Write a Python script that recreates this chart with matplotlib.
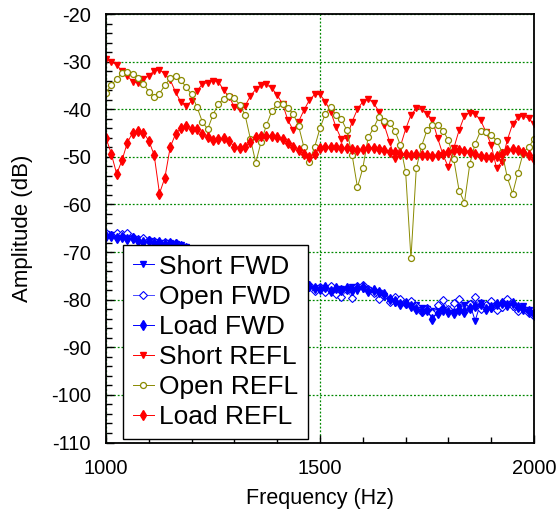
import matplotlib
matplotlib.use('Agg')
import matplotlib.pyplot as plt
import numpy as np

plt.rcParams['font.family'] = ['Liberation Sans', 'DejaVu Sans']
plt.rcParams['axes.unicode_minus'] = False

# frequency sampling (Hz)
freq = np.arange(1000, 2000.1, 12.5)

short_fwd = [-66.3, -66.5, -66.8, -66.6, -67.0, -67.4, -67.5, -67.8, -67.6, -67.9,
             -68.0, -68.2, -68.0, -68.3, -68.6, -69.0, -69.6, -70.2, -70.8, -71.3,
             -71.9, -72.4, -72.8, -73.3, -73.7, -74.2, -74.6, -75.0, -75.4, -75.9,
             -76.2, -76.5, -76.8, -77.0, -77.2, -77.3, -77.5, -77.4, -77.6, -77.8,
             -77.5, -77.9, -77.6, -78.0, -77.7, -77.9, -77.4, -78.1, -77.8, -78.0,
             -78.3, -78.6, -79.3, -80.2, -80.6, -80.4, -80.9, -80.6, -81.2, -81.8,
             -82.0, -82.4, -81.9, -82.6, -82.3, -82.5, -81.5, -81.2, -80.9, -84.4,
             -80.8, -81.6, -81.9, -81.3, -81.7, -80.9, -81.5, -81.8, -81.4, -82.2, -82.7]

open_fwd = [-66.0, -66.4, -65.9, -66.3, -66.1, -66.8, -67.2, -67.0, -67.5, -67.7,
            -68.1, -67.8, -68.4, -68.0, -68.7, -69.3, -69.9, -70.6, -71.0, -71.8,
            -72.1, -72.9, -73.1, -73.8, -74.0, -74.7, -74.9, -75.5, -75.6, -76.3,
            -76.4, -76.9, -77.0, -77.4, -77.1, -77.6, -77.2, -77.8, -77.0, -78.2,
            -77.3, -78.4, -77.1, -78.9, -79.5, -78.0, -79.6, -77.2, -76.9, -77.8,
            -78.6, -79.9, -79.2, -80.5, -79.4, -79.9, -81.0, -80.2, -81.4, -82.5,
            -81.7, -82.8, -81.2, -80.0, -81.9, -80.6, -79.8, -82.3, -81.0, -79.5,
            -82.0, -81.1, -80.2, -82.1, -81.6, -79.8, -81.3, -82.4, -81.8, -82.9, -83.4]

load_fwd = [-66.6, -66.7, -67.1, -66.9, -67.3, -67.1, -67.6, -67.9, -67.7, -68.1,
            -67.9, -68.3, -68.1, -68.4, -68.8, -69.2, -69.8, -70.4, -70.9, -71.5,
            -72.0, -72.6, -73.0, -73.5, -73.9, -74.4, -74.8, -75.2, -75.7, -76.0,
            -76.4, -76.7, -76.9, -77.2, -77.4, -77.2, -77.6, -77.3, -77.2, -77.5,
            -77.8, -77.3, -78.1, -77.6, -78.0, -77.5, -77.9, -77.6, -77.4, -78.2,
            -77.9, -78.4, -78.9, -79.8, -80.3, -81.0, -80.7, -81.3, -81.9, -82.4,
            -82.2, -84.0, -82.7, -82.0, -82.5, -82.9, -82.2, -82.6, -81.7, -81.3,
            -80.9, -82.0, -81.5, -81.0, -80.6, -81.2, -80.7, -81.5, -81.9, -82.4, -83.0]

short_refl = [-29.5, -30.0, -30.7, -32.0, -33.0, -34.2, -34.5, -33.7, -33.0, -31.9,
              -31.7, -32.6, -33.8, -36.4, -38.5, -39.3, -38.3, -36.2, -34.7, -34.4,
              -34.0, -34.2, -36.0, -37.4, -39.5, -40.0, -39.3, -37.2, -35.8, -34.9,
              -34.8, -35.6, -37.0, -38.9, -42.3, -44.4, -42.6, -40.2, -38.1, -36.9,
              -36.9, -38.4, -40.5, -43.8, -46.3, -46.1, -42.6, -40.0, -38.4, -37.9,
              -38.6, -40.5, -43.3, -46.8, -50.5, -47.9, -44.2, -41.2, -39.8, -40.0,
              -40.9, -42.3, -46.1, -49.6, -52.2, -48.2, -44.4, -41.4, -40.7, -41.0,
              -42.3, -44.7, -47.5, -52.4, -51.0, -46.5, -43.1, -41.7, -41.4, -41.9, -43.1]

open_refl = [-36.5, -34.9, -33.7, -32.3, -32.1, -32.6, -33.5, -34.6, -36.3, -37.4,
             -36.7, -35.0, -33.5, -33.0, -33.9, -35.4, -36.9, -39.5, -42.6, -44.2,
             -41.2, -38.8, -37.9, -37.2, -37.7, -39.1, -41.2, -46.3, -51.2, -46.8,
             -43.3, -40.4, -38.9, -38.9, -39.7, -41.0, -43.5, -48.0, -51.0, -47.9,
             -44.0, -40.9, -39.6, -41.2, -42.1, -44.4, -49.6, -56.4, -52.4, -45.9,
             -44.0, -41.6, -42.4, -42.8, -44.5, -47.5, -53.1, -71.3, -52.4, -47.7,
             -44.4, -43.3, -43.3, -44.5, -46.5, -50.5, -57.1, -59.6, -51.5, -47.2,
             -44.6, -44.7, -45.4, -46.6, -48.9, -54.3, -57.7, -53.3, -49.1, -47.9, -46.3]

load_refl = [-46.0, -49.4, -53.6, -50.7, -47.0, -44.9, -44.6, -44.9, -46.6, -49.6,
             -57.7, -54.4, -48.0, -45.2, -44.0, -43.5, -44.2, -44.2, -45.2, -45.9,
             -46.5, -46.3, -46.1, -46.6, -47.9, -48.2, -47.9, -46.8, -45.9, -45.6,
             -45.6, -45.6, -45.9, -46.3, -47.0, -47.9, -48.6, -49.4, -50.1, -49.3,
             -48.2, -48.0, -48.0, -47.9, -48.2, -48.2, -48.4, -48.6, -48.4, -48.1,
             -48.1, -48.4, -48.6, -49.0, -49.0, -49.3, -49.3, -49.6, -49.4, -49.6,
             -49.6, -49.8, -49.6, -49.4, -48.9, -48.6, -48.6, -48.7, -48.9, -49.4,
             -49.8, -50.0, -50.1, -49.8, -49.3, -48.6, -48.4, -48.6, -48.9, -49.6, -50.5]

fig = plt.figure(figsize=(5.59, 5.17), dpi=100)
ax = fig.add_axes([0.1896, 0.1441, 0.7657, 0.8288])

blue = '#0000ff'
red = '#ff0000'
olive = '#8a8a00'

ax.plot(freq, short_fwd, '-v', color=blue, lw=0.7, ms=4.5, label='Short FWD')
ax.plot(freq, open_fwd, '-D', color='#4a4aff', mfc='white', mec=blue, lw=0.7, ms=4,
        mew=0.8, label='Open FWD')
ax.plot(freq, load_fwd, '-d', color=blue, lw=0.7, ms=5, label='Load FWD')
ax.plot(freq, short_refl, '-v', color=red, lw=0.7, ms=4.8, label='Short REFL')
ax.plot(freq, open_refl, '-o', color=olive, mfc='white', mec=olive, lw=0.7, ms=4.3,
        mew=0.9, label='Open REFL')
ax.plot(freq, load_refl, '-d', color=red, lw=0.7, ms=5.5, label='Load REFL')

ax.set_xlim(1000, 2000)
ax.set_ylim(-110, -20)
ax.set_xticks([1000, 1500, 2000])
ax.set_xticks(np.arange(1000, 2001, 100), minor=True)
ax.set_yticks(np.arange(-110, -19, 10))
ax.set_yticks(np.arange(-110, -19, 2), minor=True)
ax.tick_params(which='both', direction='in', top=False, right=False, labelsize=14.5)
ax.tick_params(which='major', length=6, width=1)
ax.tick_params(which='minor', length=4, width=1)
ax.tick_params(axis='x', pad=12)
ax.tick_params(axis='y', pad=11)
ax.grid(True, which='major', color='#008800', linestyle=(0, (1.5, 1.5)), lw=0.9)
for s in ax.spines.values():
    s.set_linewidth(1.3)

ax.set_xlabel('Frequency (Hz)', fontsize=15.5, labelpad=7)
ax.set_ylabel('Amplitude (dB)', fontsize=16)
ax.yaxis.set_label_coords(-0.171, 0.5)

leg = ax.legend(loc='lower left', bbox_to_anchor=(0.039, 0.008), borderaxespad=0,
                fontsize=19, fancybox=False, edgecolor='black', framealpha=1,
                handlelength=0.8, handletextpad=0.2, labelspacing=0.23,
                borderpad=0.38)
leg.get_frame().set_linewidth(1.0)

fig.savefig('out.png', dpi=100)
